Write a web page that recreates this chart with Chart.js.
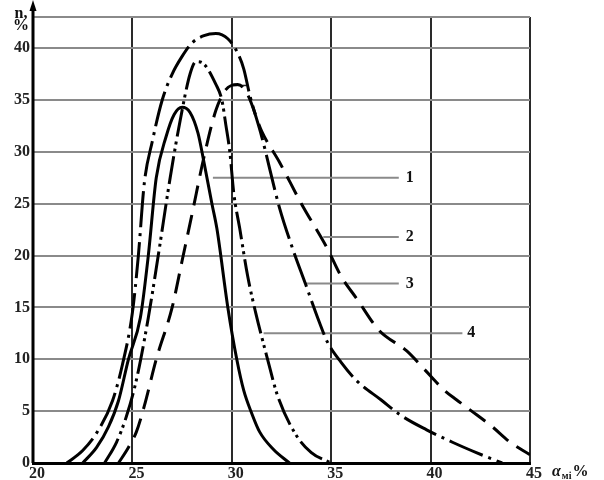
<!DOCTYPE html>
<html>
<head>
<meta charset="utf-8">
<script src="https://cdn.jsdelivr.net/npm/chart.js@4"></script>
<style>
html,body{margin:0;padding:0;background:#fff;}
#wrap{width:604px;height:480px;position:relative;}
</style>
</head>
<body>
<div id="wrap"><canvas id="c" width="604" height="480"></canvas></div>
<script>
// ---- data ----
const xTicks = [20, 25, 30, 35, 40, 45];
const yTicks = [0, 5, 10, 15, 20, 25, 30, 35, 40];

// curve 1 (solid)
const x1 = [22.5,23.2,23.8,24.3,24.8,25.4,25.8,26.2,26.7,27.1,27.5,27.9,28.3,28.6,29.0,29.25,29.8,30.25,30.6,31.0,31.4,32.1,32.9];
const y1 = [0,1.5,3.5,6,10,14,20,27.5,31.5,33.6,34.3,33.8,31.8,29,25,22.6,15,10,7,4.8,3,1.3,0];

// curve 2 (dashed)
const x2 = [24.3,24.8,25.2,25.6,26.2,27.0,27.5,28.0,28.6,29.2,29.7,30.3,30.8,31.5,32.4,33.5,34.8,35.5,36.3,37.4,38.8,39.7,40.7,41.3,42.0,43.1,44.0,45.0];
const y2 = [0,1.5,3,5.5,10,15,19.5,24,29.5,34,36,36.5,35.5,32,29,25,20.7,18,15.8,12.8,10.8,9,7,6.1,5.1,3.5,2,0.8];

// curve 3 (dash-dot)
const x3 = [21.7,22.5,23.3,24.0,24.5,25.0,25.3,25.6,26.0,26.5,27.0,27.5,28.0,28.6,29.2,29.8,30.3,30.6,30.9,31.5,32.4,33.0,33.7,34.4,34.8,35.5,36.3,37.5,38.5,39.8,41.1,42.3,43.6];
const y3 = [0,1.2,3.2,6,9.5,14.5,20,27,31,35,37.5,39.2,40.5,41.2,41.4,40.9,39.5,38,35.5,31.5,24.6,21,17.3,13.6,11.7,9.7,7.9,6.1,4.6,3.2,2,1,0];

// curve 4 (dash-dot-dot)
const x4 = [23.6,24.2,24.7,25.2,25.8,26.3,26.9,27.4,27.9,28.2,28.5,29.2,29.5,29.7,29.9,30.1,30.4,30.8,31.2,31.8,32.3,33.2,34.0,35.0];
const y4 = [0,2,4.5,8,14,20,27.5,33,37.5,38.7,38.6,36.5,35,32.6,30,26,22.6,18,14.5,10,6.5,2.8,1,0];

// series labels with leader lines
const seriesNames = ['1', '2', '3', '4'];
const leaderStartX = [29.05, 34.6, 33.7, 31.6];
const leaderEndX = [38.4, 38.4, 38.4, 41.6];
const leaderY = [27.5, 21.8, 17.3, 12.5];
const labelX = [38.95, 38.95, 38.95, 42.05];

// small marker segment near the peak of curve 2
const markX = [30.0, 30.75];
const markY = [36.4, 36.4];

const yMax = 43;
const yTitle = ['n,', '%'];
const xTitle = 'α';
const xTitleSub = 'мі';
const xTitleEnd = '%';

// ---- build ----
const pts = (xs, ys) => xs.map((x, i) => ({x: x, y: ys[i]}));
const FONT = '"Liberation Serif", "DejaVu Serif", serif';

const curveStyle = (data, dash) => ({
  data: data, borderColor: '#000', borderWidth: 3, borderDash: dash,
  pointRadius: 0, fill: false, tension: 0.4, cubicInterpolationMode: 'monotone',
  borderCapStyle: 'butt'
});

const datasets = [
  curveStyle(pts(x1, y1), []),
  curveStyle(pts(x2, y2), [20, 10]),
  curveStyle(pts(x3, y3), [36, 6, 3, 6]),
  curveStyle(pts(x4, y4), [28, 5, 3, 4, 3, 5])
];
seriesNames.forEach((n, i) => {
  datasets.push({
    data: [{x: leaderStartX[i], y: leaderY[i]}, {x: leaderEndX[i], y: leaderY[i]}],
    borderColor: '#8a8a8a', borderWidth: 2, pointRadius: 0, tension: 0
  });
});
datasets.push({
  data: pts(markX, markY), borderColor: '#222', borderWidth: 1.5, pointRadius: 0, tension: 0
});

const decor = {
  id: 'decor',
  afterDraw(chart) {
    const ctx = chart.ctx;
    const xs = chart.scales.x, ys = chart.scales.y;
    const ca = chart.chartArea;
    ctx.save();
    // y axis with arrow
    ctx.strokeStyle = '#000';
    ctx.lineWidth = 3;
    ctx.beginPath();
    ctx.moveTo(ca.left, ca.bottom);
    ctx.lineTo(ca.left, ca.top - 10);
    ctx.stroke();
    ctx.fillStyle = '#000';
    ctx.beginPath();
    ctx.moveTo(ca.left, ca.top - 17);
    ctx.lineTo(ca.left - 3.5, ca.top - 6);
    ctx.lineTo(ca.left + 3.5, ca.top - 6);
    ctx.closePath();
    ctx.fill();
    // series labels
    ctx.fillStyle = '#111';
    ctx.font = 'bold 16px ' + FONT;
    ctx.textAlign = 'center';
    ctx.textBaseline = 'middle';
    seriesNames.forEach((n, i) => {
      ctx.fillText(n, xs.getPixelForValue(labelX[i]), ys.getPixelForValue(leaderY[i]));
    });
    // y title
    ctx.fillText(yTitle[0], ca.left - 12, ca.top - 3);
    ctx.fillText(yTitle[1], ca.left - 12, ca.top + 9);
    // x title
    const bx = ca.right + 22;
    const by = ca.bottom + 9;
    ctx.textAlign = 'left';
    ctx.font = 'bold italic 16px ' + FONT;
    ctx.fillText(xTitle, bx, by);
    let w = ctx.measureText(xTitle).width;
    ctx.font = 'bold 10px ' + FONT;
    ctx.fillText(xTitleSub, bx + w + 1, by + 4);
    let w2 = ctx.measureText(xTitleSub).width;
    ctx.font = 'bold 16px ' + FONT;
    ctx.fillText(xTitleEnd, bx + w + w2 + 2, by);
    ctx.restore();
  }
};

new Chart(document.getElementById('c'), {
  type: 'line',
  data: {datasets: datasets},
  options: {
    responsive: false,
    animation: false,
    layout: {padding: {top: 17, right: 74, left: 0, bottom: 0}},
    plugins: {legend: {display: false}, tooltip: {enabled: false}},
    scales: {
      x: {
        type: 'linear', min: 20, max: 45,
        afterBuildTicks: (s) => { s.ticks = xTicks.map(v => ({value: v})); },
        afterFit: (s) => { s.height = 17; },
        grid: {color: (c) => c.tick && c.tick.value === 20 ? 'rgba(0,0,0,0)' : '#2a2a2a', lineWidth: 2, drawTicks: false},
        border: {display: true, color: '#000', width: 3},
        ticks: {
          font: {family: FONT, size: 16, weight: 'bold'}, color: '#222',
          padding: 1, labelOffset: 4, maxRotation: 0, autoSkip: false
        }
      },
      y: {
        type: 'linear', min: 0, max: yMax,
        afterBuildTicks: (s) => { s.ticks = yTicks.concat([yMax]).map(v => ({value: v})); },
        afterFit: (s) => { s.width = 33; },
        grid: {color: (c) => c.tick && c.tick.value === 0 ? 'rgba(0,0,0,0)' : '#8a8a8a', lineWidth: 2, drawTicks: false},
        border: {display: false},
        ticks: {
          font: {family: FONT, size: 16, weight: 'bold'}, color: '#222', padding: 3,
          callback: (v) => (v === yMax ? '' : String(v)), autoSkip: false
        }
      }
    }
  },
  plugins: [decor]
});
</script>
</body>
</html>
